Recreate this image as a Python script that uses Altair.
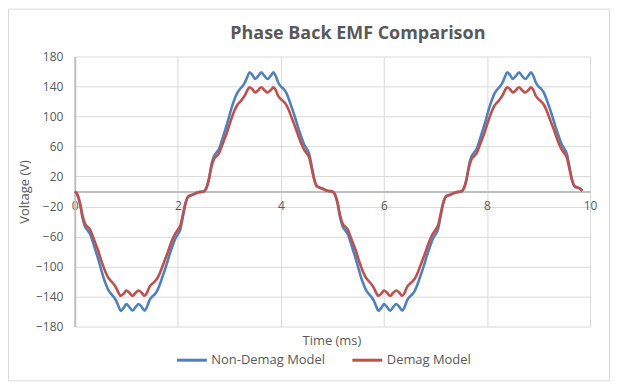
import altair as alt
import pandas as pd

# ---- data ----
time_ms = [
    0.0, 0.05, 0.1, 0.15, 0.2, 0.25, 0.3, 0.35, 0.4, 0.45, 0.5, 0.55, 0.6, 0.65, 0.7, 0.75,
    0.8, 0.85, 0.89, 0.95, 1.0, 1.06, 1.12, 1.18, 1.24, 1.3, 1.355, 1.4, 1.45, 1.5, 1.55,
    1.6, 1.65, 1.7, 1.75, 1.8, 1.85, 1.9, 1.95, 2.0, 2.05, 2.1, 2.15, 2.2, 2.3, 2.4,
    2.5, 2.55, 2.6, 2.65, 2.7, 2.75, 2.8, 2.85, 2.9, 2.95, 3.0, 3.05, 3.1, 3.15, 3.2, 3.25,
    3.3, 3.35, 3.39, 3.45, 3.5, 3.56, 3.62, 3.68, 3.74, 3.8, 3.855, 3.9, 3.95, 4.0, 4.05,
    4.1, 4.15, 4.2, 4.25, 4.3, 4.35, 4.4, 4.45, 4.5, 4.55, 4.6, 4.65, 4.7, 4.8, 4.9,
    5.0, 5.05, 5.1, 5.15, 5.2, 5.25, 5.3, 5.35, 5.4, 5.45, 5.5, 5.55, 5.6, 5.65, 5.7, 5.75,
    5.8, 5.85, 5.89, 5.95, 6.0, 6.06, 6.12, 6.18, 6.24, 6.3, 6.355, 6.4, 6.45, 6.5, 6.55,
    6.6, 6.65, 6.7, 6.75, 6.8, 6.85, 6.9, 6.95, 7.0, 7.05, 7.1, 7.15, 7.2, 7.3, 7.4,
    7.5, 7.55, 7.6, 7.65, 7.7, 7.75, 7.8, 7.85, 7.9, 7.95, 8.0, 8.05, 8.1, 8.15, 8.2, 8.25,
    8.3, 8.35, 8.39, 8.45, 8.5, 8.56, 8.62, 8.68, 8.74, 8.8, 8.855, 8.9, 8.95, 9.0, 9.05,
    9.1, 9.15, 9.2, 9.25, 9.3, 9.35, 9.4, 9.45, 9.5, 9.55, 9.6, 9.65, 9.7, 9.8, 9.85,
]

non_demag_v = [
    0, -4, -16, -35, -47, -52, -57, -67, -78, -89, -101, -113, -123, -131, -136, -140,
    -145, -153, -159, -155, -150, -154, -159, -154, -150, -154, -159, -154, -145, -140, -137,
    -132, -124, -114, -104, -93, -82, -72, -63, -57, -50, -33, -16, -7, -4, -1,
    0, 4, 16, 35, 47, 52, 57, 67, 78, 89, 101, 113, 123, 131, 136, 140,
    145, 153, 159, 155, 150, 154, 159, 154, 150, 154, 159, 154, 145, 140, 137,
    132, 124, 114, 104, 93, 82, 72, 63, 57, 50, 33, 16, 7, 4, 1,
    0, -4, -16, -35, -47, -52, -57, -67, -78, -89, -101, -113, -123, -131, -136, -140,
    -145, -153, -159, -155, -150, -154, -159, -154, -150, -154, -159, -154, -145, -140, -137,
    -132, -124, -114, -104, -93, -82, -72, -63, -57, -50, -33, -16, -7, -4, -1,
    0, 4, 16, 35, 47, 52, 57, 67, 78, 89, 101, 113, 123, 131, 136, 140,
    145, 153, 159, 155, 150, 154, 159, 154, 150, 154, 159, 154, 145, 140, 137,
    132, 124, 114, 104, 93, 82, 72, 63, 57, 50, 33, 16, 7, 4, 1,
]

demag_v = [
    0, -4, -15, -32, -43, -47, -51, -60, -69, -78, -89, -99, -108, -115, -119, -123,
    -128, -135, -139, -136, -132, -135, -139, -135, -132, -135, -139, -135, -127, -123, -120,
    -116, -109, -100, -91, -82, -72, -63, -56, -51, -45, -30, -15, -7, -4, -1,
    0, 4, 15, 32, 43, 47, 51, 60, 69, 78, 89, 99, 108, 115, 119, 123,
    128, 135, 139, 136, 132, 135, 139, 135, 132, 135, 139, 135, 127, 123, 120,
    116, 109, 100, 91, 82, 72, 63, 56, 51, 45, 30, 15, 7, 4, 1,
    0, -4, -15, -32, -43, -47, -51, -60, -69, -78, -89, -99, -108, -115, -119, -123,
    -128, -135, -139, -136, -132, -135, -139, -135, -132, -135, -139, -135, -127, -123, -120,
    -116, -109, -100, -91, -82, -72, -63, -56, -51, -45, -30, -15, -7, -4, -1,
    0, 4, 15, 32, 43, 47, 51, 60, 69, 78, 89, 99, 108, 115, 119, 123,
    128, 135, 139, 136, 132, 135, 139, 135, 132, 135, 139, 135, 127, 123, 120,
    116, 109, 100, 91, 82, 72, 63, 56, 51, 45, 30, 15, 7, 4, 1,
]

series_names = ["Non-Demag Model", "Demag Model"]
series_colors = ["#4F81BD", "#C0504D"]
x_ticks = [0, 2, 4, 6, 8, 10]
y_ticks = [180, 140, 100, 60, 20, -20, -60, -100, -140, -180]
chart_title = "Phase Back EMF Comparison"
x_title = "Time (ms)"
y_title = "Voltage (V)"

rows = []
for name, vals in zip(series_names, [non_demag_v, demag_v]):
    for t, v in zip(time_ms, vals):
        rows.append({"Time": t, "Voltage": v, "Series": name})
df = pd.DataFrame(rows)

W, H = 517, 271
FONT = "Open Sans"
TXT = "#595959"
GRID = "#d9d9d9"
AXIS = "#bfbfbf"

lines = alt.Chart(df).mark_line(strokeWidth=2.6, interpolate="monotone").encode(
    x=alt.X(
        "Time:Q",
        scale=alt.Scale(domain=[0, 10], nice=False, zero=False),
        axis=alt.Axis(
            values=x_ticks, title=None, offset=-135.5, grid=True, gridColor=GRID,
            gridWidth=1, domainColor=AXIS, domainWidth=2, ticks=False, labelPadding=9,
            labelFontSize=12, labelFont=FONT, labelColor=TXT, labelFlush=False,
            labelOverlap=False,
        ),
    ),
    y=alt.Y(
        "Voltage:Q",
        scale=alt.Scale(domain=[-180, 180], nice=False, zero=False),
        axis=alt.Axis(
            values=y_ticks, title=y_title, grid=True, gridColor=GRID, gridWidth=1,
            domainColor=AXIS, domainWidth=2, ticks=False, labelPadding=12,
            labelFontSize=12, labelFont=FONT, labelColor=TXT, labelOverlap=False,
            titleFont=FONT, titleFontSize=13, titleFontWeight="normal", titleColor=TXT,
            titlePadding=4,
        ),
    ),
    color=alt.Color(
        "Series:N",
        sort=series_names,
        scale=alt.Scale(domain=series_names, range=series_colors),
        legend=alt.Legend(
            title=None, orient="none", legendX=101, legendY=288, direction="horizontal",
            symbolType="stroke", symbolSize=900, symbolStrokeWidth=3, labelFontSize=13,
            labelFont=FONT, labelColor=TXT, columnPadding=20, labelOffset=3, padding=0,
        ),
    ),
    order=alt.Order("Time:Q"),
)

one = pd.DataFrame({"title": [chart_title], "xt": [x_title]})

title_txt = alt.Chart(one).mark_text(
    font=FONT, fontSize=18, fontWeight="bold", color=TXT, baseline="alphabetic", align="center"
).encode(text="title:N", x=alt.value(284), y=alt.value(-18))

xtitle_txt = alt.Chart(one).mark_text(
    font=FONT, fontSize=13, color=TXT, baseline="middle", align="center"
).encode(text="xt:N", x=alt.value(258), y=alt.value(285))

border = alt.Chart(one).mark_rect(fillOpacity=0, stroke=GRID, strokeWidth=1).encode(
    x=alt.value(-66.5), x2=alt.value(536.5), y=alt.value(-47.5), y2=alt.value(325.5)
)

chart = alt.layer(border, lines, title_txt, xtitle_txt).properties(
    width=W, height=H,
    autosize=alt.AutoSizeParams(type="none"),
    padding={"left": 67, "top": 48, "right": 20, "bottom": 55},
    background="white",
).configure_view(strokeWidth=0)

chart.save("out.html", embed_options={"renderer": "svg", "actions": False})
